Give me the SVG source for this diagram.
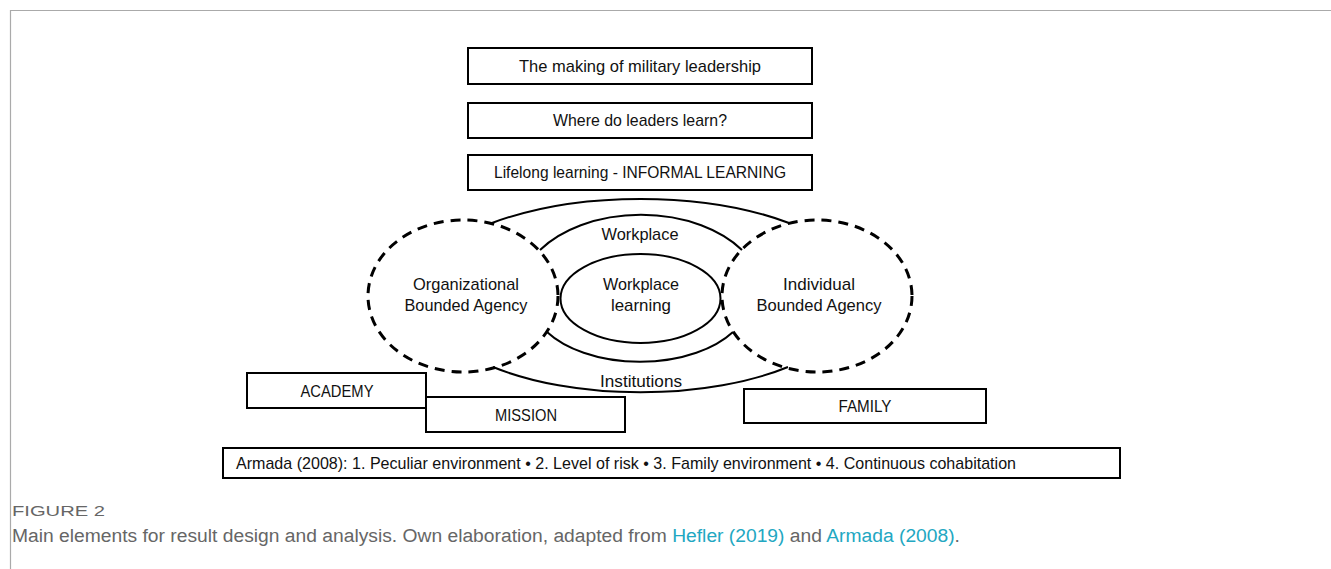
<svg xmlns="http://www.w3.org/2000/svg" width="1331" height="569" viewBox="0 0 1331 569">
<style>
.box{fill:#fff;stroke:#000;stroke-width:2}
.dash{fill:none;stroke:#000;stroke-width:3;stroke-dasharray:10 7}
.arc{fill:none;stroke:#000;stroke-width:2}
.t{font-family:"Liberation Sans",Arial,sans-serif;font-size:17px;fill:#111;text-anchor:middle}
.cap{font-family:"Liberation Sans",Arial,sans-serif;fill:#666}
.lnk{fill:#22a7c2}
</style>
<rect width="1331" height="569" fill="#fff"/>
<g id="frame" stroke="#aaa" stroke-width="1.2" fill="none">
<line x1="10" y1="10.5" x2="1331" y2="10.5"/>
<line x1="10.5" y1="10" x2="10.5" y2="569"/>
</g>
<g id="connectors">
<path class="arc" d="M492 223 A227 99 0 0 1 789 223"/>
<path class="arc" d="M540 250 A123 82 0 0 1 742 250"/>
<path class="arc" d="M547 332 A110 64 0 0 0 733 332"/>
<path class="arc" d="M493 367 A216 94 0 0 0 788 367"/>
</g>
<g id="n-making"><rect class="box" x="468" y="48" width="344" height="36"/><text class="t" x="640" y="72" textLength="242" lengthAdjust="spacingAndGlyphs">The making of military leadership</text></g>
<g id="n-where"><rect class="box" x="468" y="103" width="344" height="35"/><text class="t" x="640" y="126" textLength="174" lengthAdjust="spacingAndGlyphs">Where do leaders learn?</text></g>
<g id="n-lifelong"><rect class="box" x="468" y="155" width="344" height="35"/><text class="t" x="640" y="178" textLength="292" lengthAdjust="spacingAndGlyphs">Lifelong learning - INFORMAL LEARNING</text></g>
<g id="n-org"><ellipse class="dash" cx="463" cy="296" rx="95" ry="76"/><text class="t" x="466" y="290" textLength="106" lengthAdjust="spacingAndGlyphs">Organizational</text><text class="t" x="466" y="311" textLength="123" lengthAdjust="spacingAndGlyphs">Bounded Agency</text></g>
<g id="n-ind"><ellipse class="dash" cx="817" cy="296" rx="95" ry="76"/><text class="t" x="819" y="290" textLength="72" lengthAdjust="spacingAndGlyphs">Individual</text><text class="t" x="819" y="311" textLength="125" lengthAdjust="spacingAndGlyphs">Bounded Agency</text></g>
<g id="n-wpl"><ellipse class="arc" cx="640.5" cy="298.5" rx="80" ry="44.5"/><text class="t" x="641" y="290" textLength="76" lengthAdjust="spacingAndGlyphs">Workplace</text><text class="t" x="641" y="311" textLength="60" lengthAdjust="spacingAndGlyphs">learning</text></g>
<g id="l-workplace"><text class="t" x="640" y="240" textLength="77" lengthAdjust="spacingAndGlyphs">Workplace</text></g>
<g id="l-institutions"><text class="t" x="641" y="387" textLength="82" lengthAdjust="spacingAndGlyphs">Institutions</text></g>
<g id="n-academy"><rect class="box" x="247" y="373" width="179" height="35"/><text class="t" x="337" y="397" textLength="73" lengthAdjust="spacingAndGlyphs">ACADEMY</text></g>
<g id="n-mission"><rect class="box" x="426" y="397" width="199" height="35"/><text class="t" x="526" y="421" textLength="62" lengthAdjust="spacingAndGlyphs">MISSION</text></g>
<g id="n-family"><rect class="box" x="744" y="389" width="242" height="34"/><text class="t" x="865" y="412" textLength="53" lengthAdjust="spacingAndGlyphs">FAMILY</text></g>
<g id="n-armada"><rect class="box" x="223" y="448" width="897" height="30"/><text class="t" x="626" y="469" textLength="780" lengthAdjust="spacingAndGlyphs">Armada (2008): 1. Peculiar environment • 2. Level of risk • 3. Family environment • 4. Continuous cohabitation</text></g>
<g id="caption">
<text class="cap" x="12" y="516" font-size="15" fill="#555" textLength="93" lengthAdjust="spacingAndGlyphs">FIGURE 2</text>
<text class="cap" x="12" y="542" font-size="18" textLength="948" lengthAdjust="spacingAndGlyphs">Main elements for result design and analysis. Own elaboration, adapted from <tspan class="lnk">Hefler (2019)</tspan> and <tspan class="lnk">Armada (2008)</tspan>.</text>
</g>
</svg>
